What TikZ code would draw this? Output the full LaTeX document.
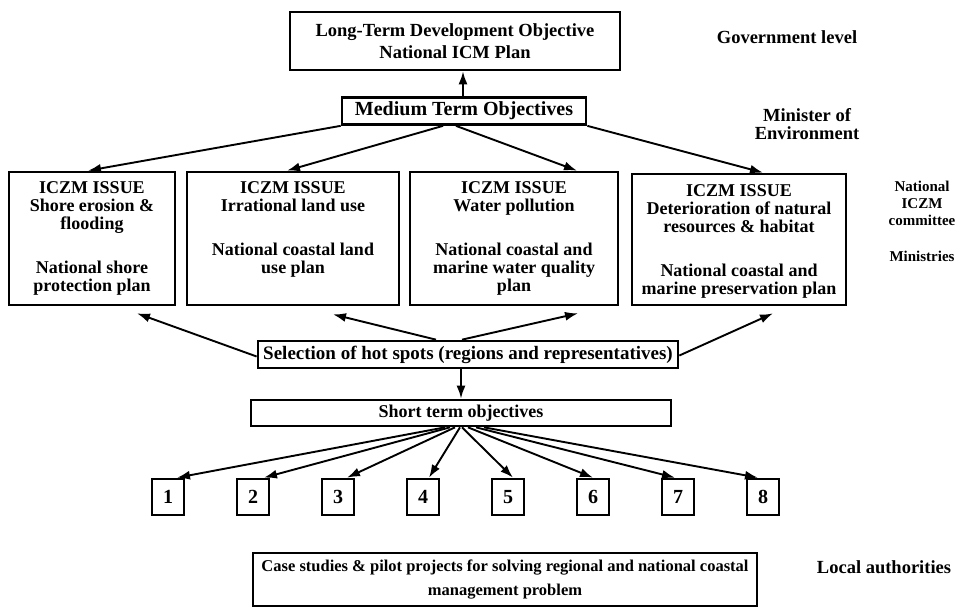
\documentclass[tikz,border=0pt]{standalone}
\usepackage{fontspec}
\setmainfont{Liberation Serif}
\usetikzlibrary{arrows.meta,calc}
\newcommand\setfs[2]{\fontsize{#1}{#2}\selectfont}
\begin{document}
\begin{tikzpicture}[x=1pt,y=-1pt,
  box/.style={draw,line width=2.7pt,inner sep=0pt,align=center},
  lbl/.style={inner sep=0pt,align=center},
  arr/.style={line width=1.9pt,-{Latex[length=13pt,width=9pt]}},
  numbox/.style={box,minimum width=32pt,minimum height=36pt,font=\bfseries\setfs{20}{20}},
]
\useasboundingbox (0,0) rectangle (960,608);

% objectives at government / ministry level
\node[box,minimum width=330pt,minimum height=58pt,font=\bfseries\setfs{18.5}{22}] (ltd) at (455,41)
  {Long-Term Development Objective\\National ICM Plan};
\node[box,minimum width=244pt,minimum height=27pt,font=\bfseries\setfs{20}{20}] (med) at (464,111)
  {Medium Term Objectives};

% ICZM issue boxes
\node[box,minimum width=166pt,minimum height=133pt] (b1) at (92,238.5) {};
\node[box,minimum width=212pt,minimum height=133pt] (b2) at (293,238.5) {};
\node[box,minimum width=208pt,minimum height=133pt] (b3) at (514,238.5) {};
\node[box,minimum width=214pt,minimum height=131pt] (b4) at (739,239.5) {};

\tikzset{issue/.style={lbl,anchor=north,font=\bfseries\setfs{18}{18}}}
\node[issue] (t1) at (92,181) {ICZM ISSUE\\Shore erosion \&\\flooding\\[26pt]National shore\\protection plan};
\node[issue] (t2) at (293,181) {ICZM ISSUE\\Irrational land use\\[26pt]National coastal land\\use plan};
\node[issue] (t3) at (514,181) {ICZM ISSUE\\Water pollution\\[26pt]National coastal and\\marine water quality\\plan};
\node[issue] (t4) at (739,184) {ICZM ISSUE\\Deterioration of natural\\resources \& habitat\\[26pt]National coastal and\\marine preservation plan};

% hot spots and short term level
\node[box,minimum width=420pt,minimum height=27pt,font=\bfseries\setfs{19}{19}] (sel) at (468,354.5)
  {Selection of hot spots (regions and representatives)};
\node[box,minimum width=420pt,minimum height=26pt,font=\bfseries\setfs{18}{18}] (short) at (461,413)
  {Short term objectives};

\foreach \i in {1,...,8}
  \node[numbox] (n\i) at ({168+85*(\i-1)},497) {\i};

\node[box,minimum width=504pt,minimum height=53pt,font=\bfseries\setfs{16.5}{24}] (case) at (505,579.5)
  {Case studies \& pilot projects for solving regional and national coastal\\management problem};

% level labels on the right
\tikzset{level/.style={lbl,font=\bfseries\setfs{18.5}{18.5}}}
\node[level] (gov) at (787,37) {Government level};
\node[level] (min) at (807,124) {Minister of\\Environment};
\node[lbl,font=\bfseries\setfs{15}{17}] (nic) at (922,203) {National\\ICZM\\committee};
\node[lbl,font=\bfseries\setfs{15}{17}] (mins) at (922,256) {Ministries};
\node[level] (loc) at (884,567) {Local authorities};

% connectors
\draw[arr] ($(med.north)+(-1,0)$) -- ($(med.north |- ltd.south)+(-1,0)$);

\draw[arr] (med.south west) -- ($(b1.north)+(-4,0)$);
\draw[arr] ($(med.south)+(-21,0)$) -- ($(b2.north)+(-6,0)$);
\draw[arr] ($(med.south)+(-8,0)$) -- ($(b3.north)+(63,0)$);
\draw[arr] (med.south east) -- ($(b4.north)+(24,0)$);

\draw[arr] ($(sel.west)+(0,2)$) -- ($(b1.south)+(45,7)$);
\draw[arr] ($(sel.north)+(-32,0)$) -- ($(b2.south)+(40,8)$);
\draw[arr] ($(sel.north)+(-6,0)$) -- ($(b3.south)+(64,7)$);
\draw[arr] ($(sel.east)+(0,1)$) -- ($(b4.south)+(34,7)$);

\draw[arr] (short.north |- sel.south) -- (short.north);

\foreach \i/\s/\t in {1/-16/9, 2/-11/11, 3/-6/9, 4/-1/6, 5/1/5, 6/7/0, 7/15/-3, 8/23/-5}
  \draw[arr] ($(short.south)+(\s,0)$) -- ($(n\i.north)+(\t,0)$);
\end{tikzpicture}
\end{document}
